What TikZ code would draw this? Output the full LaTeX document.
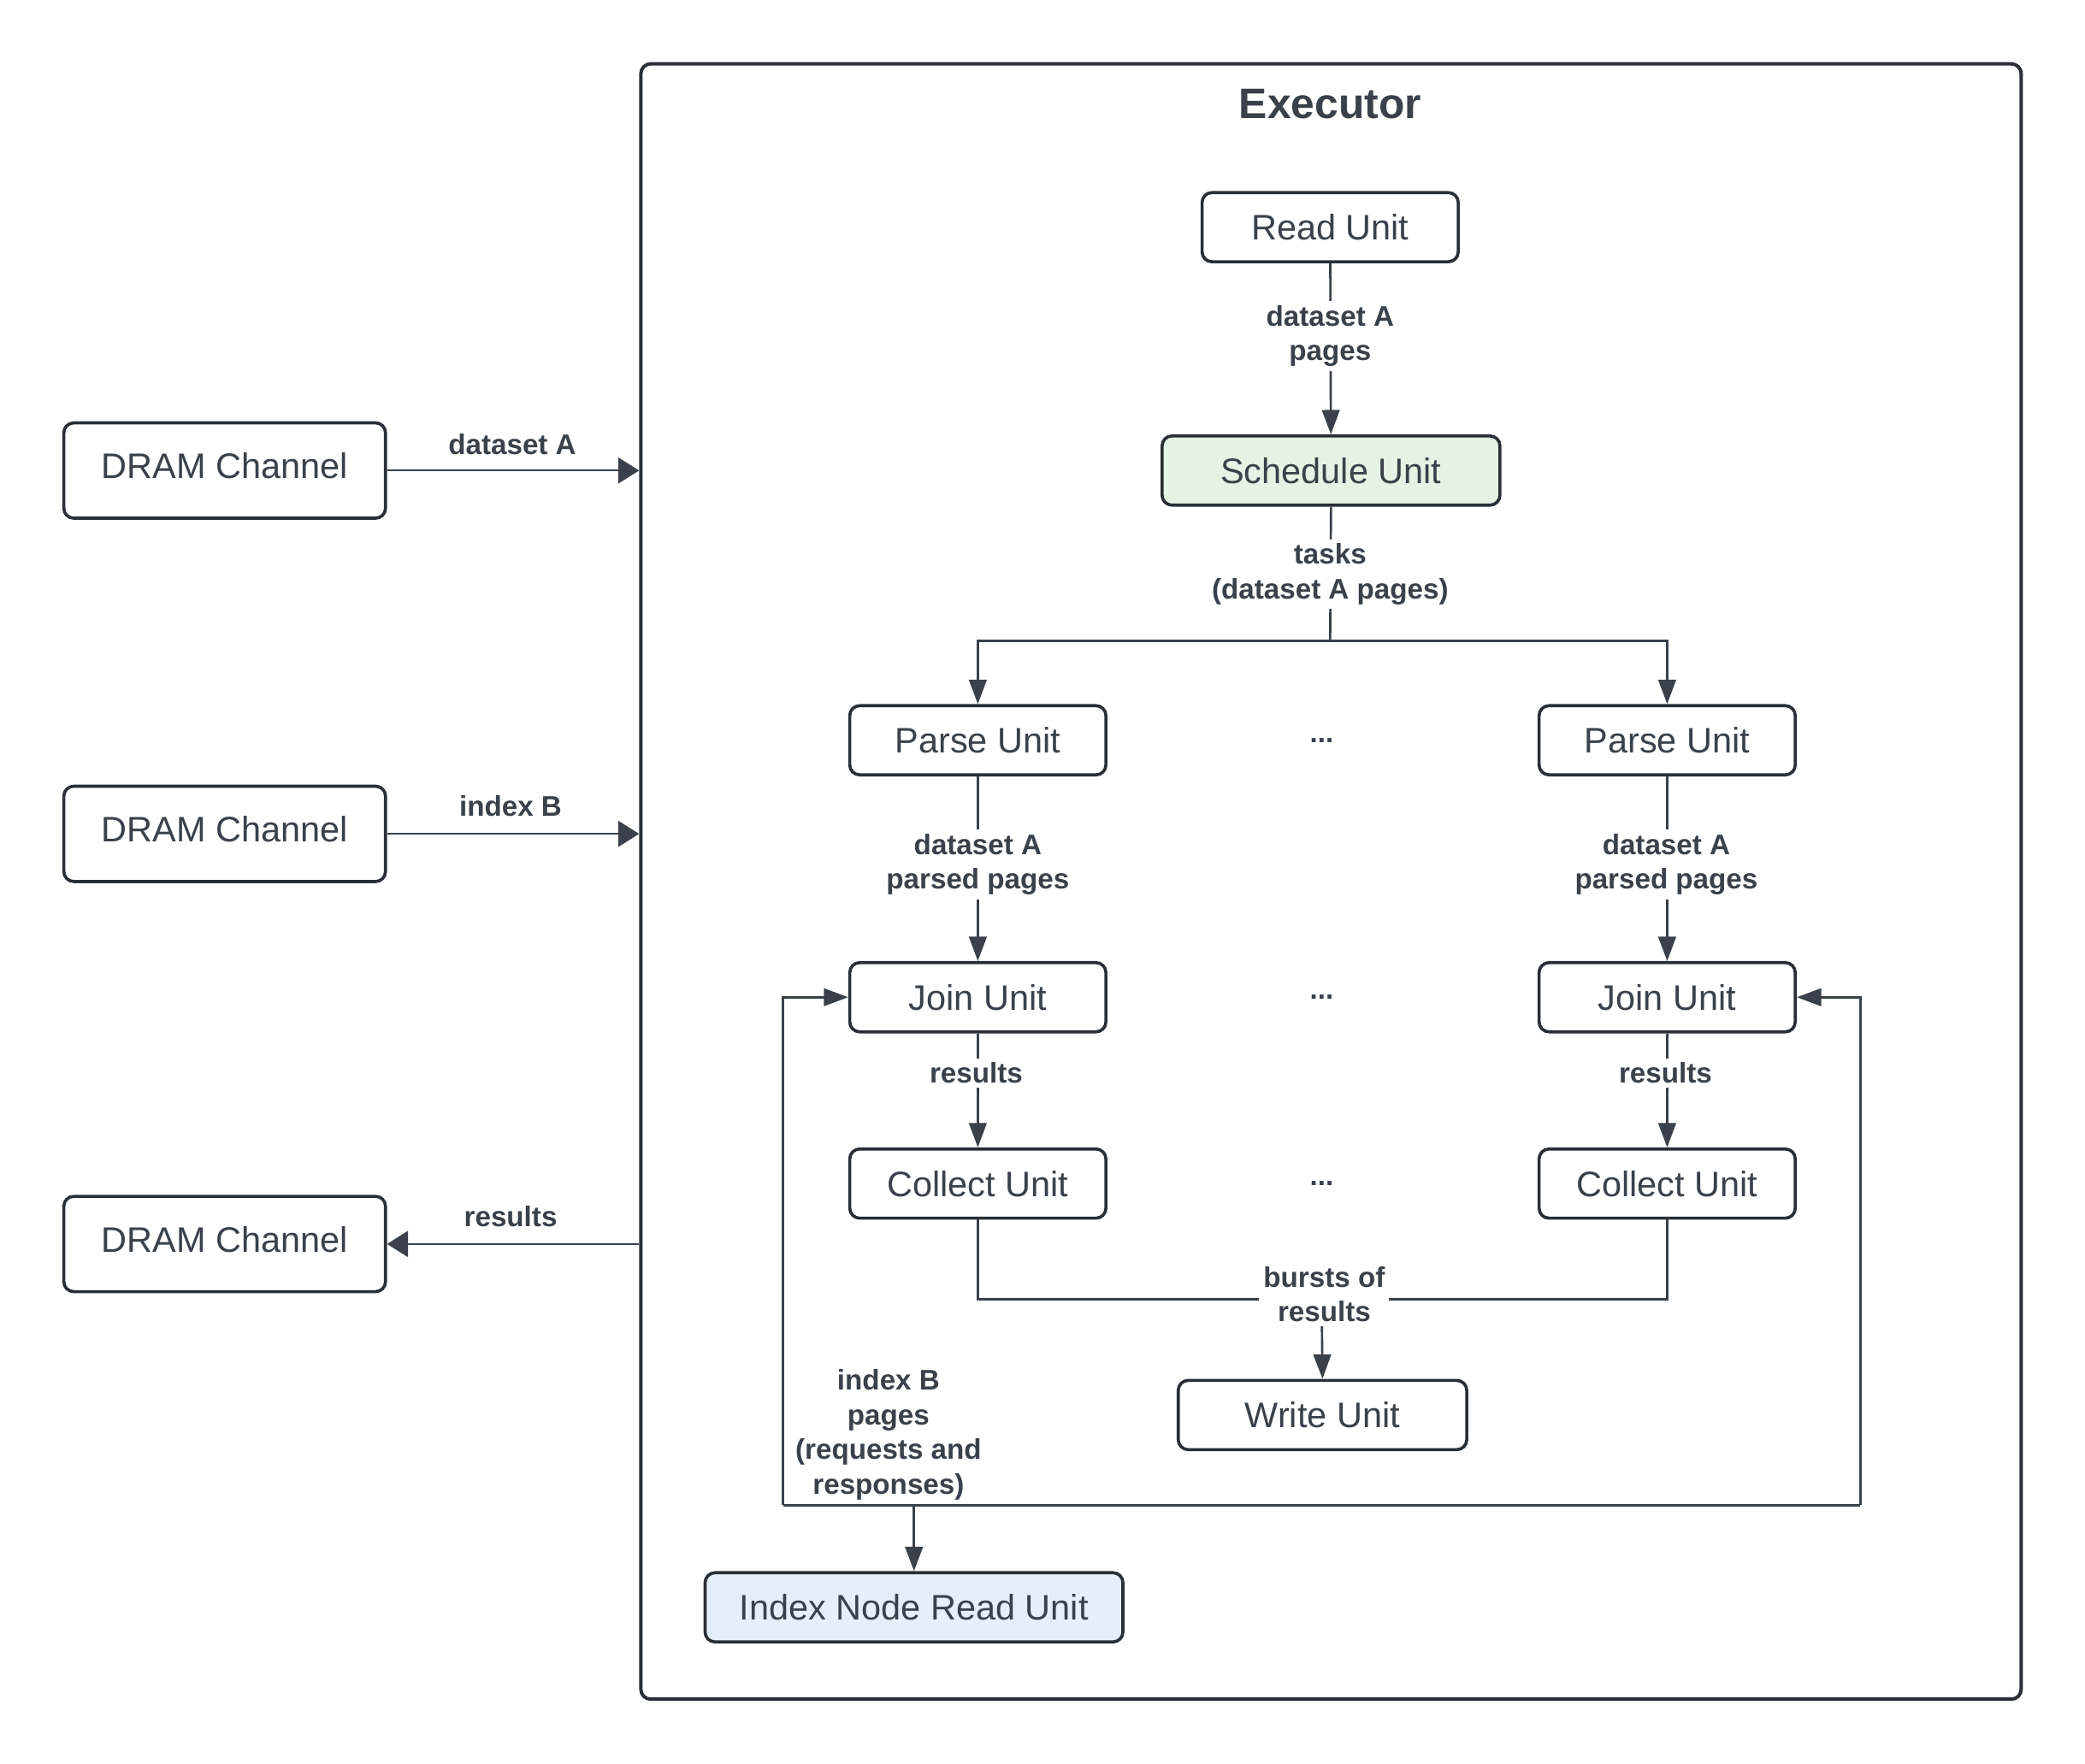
\documentclass[tikz,border=0pt]{standalone}
\usepackage{fontspec}
\setmainfont{Liberation Sans}
\usetikzlibrary{arrows.meta}
\definecolor{ink}{HTML}{3A414A}
\definecolor{frame}{HTML}{2A2F36}
\definecolor{schedfill}{HTML}{E5F3E5}
\definecolor{idxfill}{HTML}{E5EFFA}

\tikzset{every picture/.style={line width=0.8pt},
  unit/.style={draw=frame, line width=1.1pt, rounded corners=3.5pt, minimum width=90.3pt, minimum height=24.4pt, inner sep=0pt, text=ink, font=\fontsize{12.5}{15}\selectfont},
  dram/.style={unit, minimum width=113.4pt, minimum height=33.6pt, text depth=3.4pt},
  flow/.style={draw=ink, line width=0.8pt},
  arr/.style={flow, -{Triangle[length=8.6pt,width=6.2pt]}},
  thinarr/.style={draw=ink, line width=0.5pt, -{Triangle[length=7.4pt,width=9.2pt]}},
  lbl/.style={fill=white, inner sep=1.5pt, align=center, text=ink, font=\bfseries\fontsize{10}{12.2}\selectfont},
  dots/.style={inner sep=1pt, text=ink, font=\bfseries\fontsize{10}{12}\selectfont}
}

\begin{document}
\begin{tikzpicture}[x=0.3pt,y=0.3pt,yscale=-1,xscale=1]
\useasboundingbox (0,0) rectangle (2450,2073);

%Shape: Executor frame
\node [draw=frame, line width=1.2pt, rounded corners=3.5pt, minimum width=486.6pt, minimum height=576.6pt, inner sep=0pt] (exec) at (1564,1036) {};
\node [text=ink, font=\bfseries\fontsize{15}{18}\selectfont] (title) at (1563,122) {Executor};

%Shape: DRAM channels
\node [dram] (dramA) at (264,553) {DRAM Channel};
\node [dram] (dramB) at (264,980) {DRAM Channel};
\node [dram] (dramC) at (264,1462) {DRAM Channel};

%Shape: Units
\node [unit] (read) at (1563,267) {Read Unit};
\node [unit, fill=schedfill, minimum width=119.1pt] (sched) at (1564,553) {Schedule Unit};
\node [unit] (parseL) at (1149,870) {Parse Unit};
\node [unit] (parseR) at (1959,870) {Parse Unit};
\node [unit] (joinL) at (1149,1172) {Join Unit};
\node [unit] (joinR) at (1959,1172) {Join Unit};
\node [unit] (collL) at (1149,1391) {Collect Unit};
\node [unit] (collR) at (1959,1391) {Collect Unit};
\node [unit, minimum width=101.7pt] (write) at (1554,1663) {Write Unit};
\node [unit, fill=idxfill, minimum width=147.3pt] (idx) at (1074,1889) {Index Node Read Unit};

%Straight Lines
\draw [thinarr] (dramA.east) -- (dramA.east -| exec.west);
\draw [thinarr] (dramB.east) -- (dramB.east -| exec.west);
\draw [thinarr] (dramC.east -| exec.west) -- (dramC.east);

\draw [arr] (read) -- (sched);
\coordinate (fork) at (1563,753);
\draw [flow] (sched.south) -- (fork);
\draw [arr] (fork) -| (parseL.north);
\draw [arr] (fork) -| (parseR.north);
\draw [arr] (parseL) -- (joinL);
\draw [arr] (parseR) -- (joinR);
\draw [arr] (joinL) -- (collL);
\draw [arr] (joinR) -- (collR);
\coordinate (merge) at (1553,1527);
\draw [flow] (collL.south) |- (merge);
\draw [flow] (collR.south) |- (merge);
\draw [arr] (merge) -- (write.north);

%Straight Lines: index B loop
\coordinate (loopL) at (920,1769);
\coordinate (loopR) at (2186,1769);
\draw [flow] (loopL) -- (loopR);
\draw [arr] (loopL) |- (joinL.west);
\draw [arr] (loopR) |- (joinR.east);
\draw [arr] (idx.north |- loopL) -- (idx.north);

% Text Node
\node [lbl, fill=none] (lblA) at (602,522) {dataset A};
% Text Node
\node [lbl, fill=none] (lblB) at (600,947) {index B};
% Text Node
\node [lbl, fill=none] (lblC) at (600,1430) {results};
% Text Node
\node [lbl] (pages) at (1563,395) {dataset A\\pages};
% Text Node
\node [lbl] (tasks) at (1563,675) {tasks\\(dataset A pages)};
% Text Node
\node [lbl] (parsedL) at (1149,1016) {dataset A\\parsed pages};
% Text Node
\node [lbl] (parsedR) at (1958,1016) {dataset A\\parsed pages};
% Text Node
\node [lbl] (resL) at (1147,1261) {results};
% Text Node
\node [lbl] (resR) at (1957,1261) {results};
% Text Node
\node [lbl] (bursts) at (1556,1521) {bursts of\\results};
% Text Node
\node [lbl, fill=none] (idxlbl) at (1044,1686) {index B\\pages\\(requests and\\responses)};
% Text Node
\node [dots] (dotsP) at (1553,870) {...};
\node [dots] (dotsJ) at (1553,1172) {...};
\node [dots] (dotsC) at (1553,1391) {...};

\end{tikzpicture}
\end{document}
